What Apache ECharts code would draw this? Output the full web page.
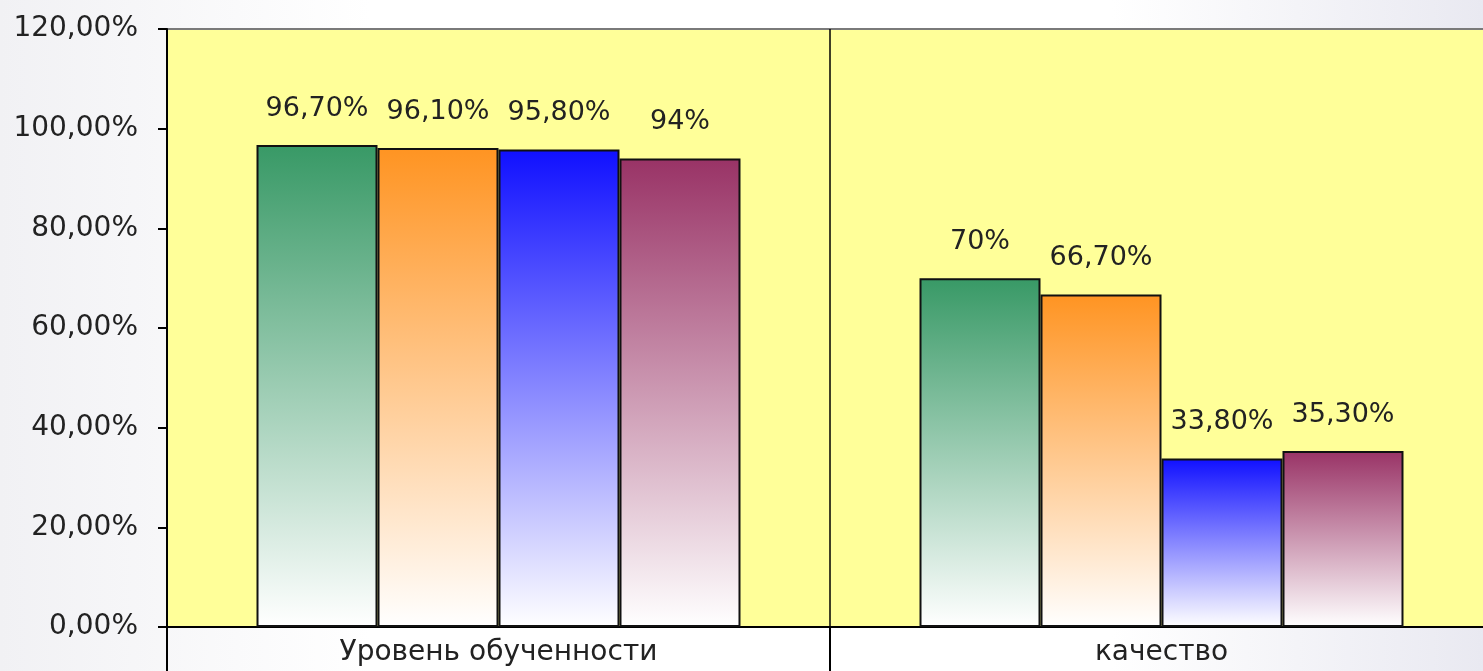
<!DOCTYPE html>
<html lang="ru">
<head>
    <meta charset="UTF-8">
    <title>Уровень обученности и качество</title>
    <script src="https://cdn.jsdelivr.net/npm/echarts@6/dist/echarts.min.js"></script>
    <style>
        html, body {
            margin: 0;
            padding: 0;
            overflow: hidden;
        }
        body {
            width: 1483px;
            height: 671px;
            background: linear-gradient(to right, #f1f1f4 0%, #ffffff 25%, #ffffff 75%, #e9e9f1 100%);
        }
        /* холст чуть шире окна: область построения уходит за правый край */
        #chart {
            width: 1493px;
            height: 671px;
        }
    </style>
</head>
<body>
<div id="chart"></div>
<script>
// данные
const categories = ['Уровень обученности', 'качество'];
const series1 = [96.7, 70];
const series2 = [96.1, 66.7];
const series3 = [95.8, 33.8];
const series4 = [94, 35.3];
const yTicks = [0, 20, 40, 60, 80, 100, 120];

const seriesData = [series1, series2, series3, series4];
const topColors = ['#389966', '#ff9422', '#1010ff', '#993366'];
const fontFamily = 'DejaVu Sans, Verdana, sans-serif';

// 96.7 -> "96,70%", 94 -> "94%"
function pct(v) {
    if (Number.isInteger(v)) return v + '%';
    return v.toFixed(2).replace('.', ',') + '%';
}

var mychart = echarts.init(document.getElementById('chart'));

var option = {
    backgroundColor: 'transparent',
    animation: false,
    grid: {
        left: 167,
        right: 0,
        top: 29,
        bottom: 44,
        show: true,
        backgroundColor: '#ffff99',
        borderColor: '#7a7a7a',
        borderWidth: 2
    },
    xAxis: {
        type: 'category',
        data: categories,
        axisLine: { lineStyle: { color: '#000', width: 2 } },
        axisTick: { show: true, length: 46, lineStyle: { color: '#000', width: 2 } },
        splitLine: { show: true, lineStyle: { color: '#000', width: 1.5 } },
        axisLabel: {
            color: '#222',
            fontSize: 28,
            fontFamily: fontFamily,
            margin: 12
        }
    },
    yAxis: {
        type: 'value',
        min: 0,
        max: yTicks[yTicks.length - 1],
        interval: 20,
        axisLine: { show: true, lineStyle: { color: '#000', width: 2 } },
        axisTick: { show: true, length: 9, lineStyle: { color: '#000', width: 2 } },
        splitLine: { show: false },
        axisLabel: {
            color: '#222',
            fontSize: 28,
            fontFamily: fontFamily,
            margin: 29,
            formatter: v => v.toFixed(2).replace('.', ',') + '%'
        }
    },
    series: seriesData.map((d, i) => ({
        name: 'Ряд ' + (i + 1),
        type: 'bar',
        data: d,
        barGap: '0%',
        barCategoryGap: '27%',
        itemStyle: {
            borderColor: '#111',
            borderWidth: 2,
            color: {
                type: 'linear',
                x: 0, y: 0, x2: 0, y2: 1,
                colorStops: [
                    { offset: 0, color: topColors[i] },
                    { offset: 1, color: '#ffffff' }
                ]
            }
        },
        label: {
            show: true,
            position: 'top',
            distance: 23,
            color: '#222',
            fontSize: 27,
            fontFamily: fontFamily,
            formatter: p => pct(p.value)
        }
    }))
};

mychart.setOption(option);
</script>
</body>
</html>
